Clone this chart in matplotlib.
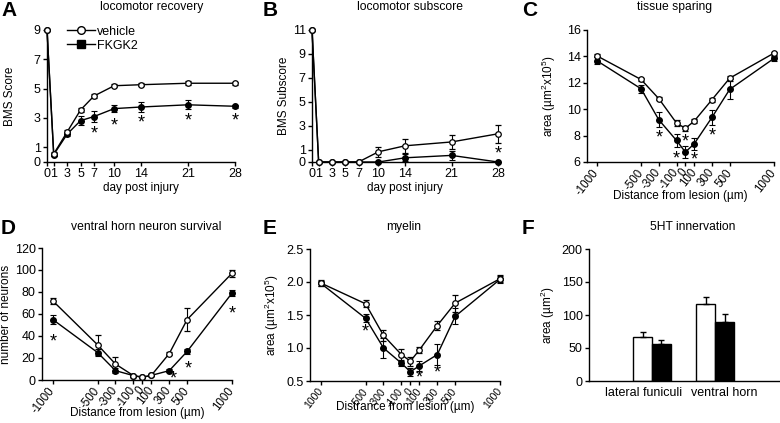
import matplotlib
matplotlib.use("Agg")
import matplotlib.pyplot as plt
from matplotlib.lines import Line2D
from matplotlib.transforms import ScaledTranslation
import numpy as np

plt.rcParams['font.family'] = ['Liberation Sans', 'DejaVu Sans']
plt.rcParams['mathtext.default'] = 'regular'
plt.rcParams['axes.linewidth'] = 1.0

# ---------------- data ----------------
days = [0, 1, 3, 5, 7, 10, 14, 21, 28]
day_ticks = [0, 1, 3, 5, 7, 10, 14, 21, 28]

bms_vehicle = [9, 0.55, 2.05, 3.55, 4.5, 5.2, 5.27, 5.37, 5.37]
bms_vehicle_err = [0, 0.12, 0.12, 0.12, 0.15, 0.1, 0.1, 0.12, 0.1]
bms_fkgk2 = [9, 0.5, 1.9, 2.82, 3.1, 3.64, 3.75, 3.9, 3.8]
bms_fkgk2_err = [0, 0.12, 0.15, 0.3, 0.4, 0.25, 0.35, 0.3, 0.1]
bms_star_days = [7, 10, 14, 21, 28]
bms_star_y = [2.15, 2.7, 2.9, 3.0, 3.0]

sub_vehicle = [11, 0, 0, 0, 0, 0.85, 1.35, 1.67, 2.35]
sub_vehicle_err = [0, 0, 0, 0, 0, 0.4, 0.6, 0.6, 0.75]
sub_fkgk2 = [11, 0, 0, 0, 0, 0, 0.35, 0.55, 0]
sub_fkgk2_err = [0, 0, 0, 0, 0, 0, 0.3, 0.4, 0]
sub_star_days = [28]
sub_star_y = [0.95]

dist = [-1000, -500, -300, -100, 0, 100, 300, 500, 1000]
dist_labels = ['-1000', '-500', '-300', '-100', '0', '100', '300', '500', '1000']
dist_labels_e = ['1000', '-500', '-300', '-100', '0', '100', '300', '500', '1000']

tissue_vehicle = [14.05, 12.25, 10.8, 8.95, 8.55, 9.1, 10.72, 12.35, 14.25]
tissue_vehicle_err = [0.12, 0.12, 0.12, 0.25, 0.18, 0.15, 0.15, 0.2, 0.12]
tissue_fkgk2 = [13.68, 11.55, 9.2, 7.63, 6.75, 7.38, 9.38, 11.5, 13.85]
tissue_fkgk2_err = [0.25, 0.3, 0.55, 0.5, 0.45, 0.45, 0.55, 0.75, 0.2]
tissue_star_x = [-300, -100, 0, 100, 300]
tissue_star_y = [8.1, 6.5, 7.75, 6.4, 8.2]

neuron_vehicle = [72, 32, 14.5, 4, 2.5, 4.2, 24, 55, 97]
neuron_vehicle_err = [3, 9, 6, 1, 1, 1, 1.5, 10.5, 3]
neuron_fkgk2 = [55, 25, 8.5, 4, 2.5, 4.2, 8.5, 26, 79]
neuron_fkgk2_err = [4, 3, 2, 1, 1, 1, 1.5, 2, 2.5]
neuron_star_x = [-1000, 350, 510, 1000]
neuron_star_y = [38, 4, 13, 63]

myelin_vehicle = [1.985, 1.67, 1.19, 0.9, 0.8, 0.97, 1.34, 1.68, 2.05]
myelin_vehicle_err = [0.04, 0.05, 0.08, 0.08, 0.07, 0.05, 0.07, 0.13, 0.05]
myelin_fkgk2 = [1.98, 1.45, 1.0, 0.77, 0.64, 0.73, 0.9, 1.48, 2.04]
myelin_fkgk2_err = [0.04, 0.06, 0.15, 0.04, 0.06, 0.08, 0.16, 0.12, 0.05]
myelin_star_x = [-500, 100, 300]
myelin_star_y = [1.29, 0.6, 0.67]

ht_regions = ['lateral funiculi', 'ventral horn']
ht_vehicle = [66, 117]
ht_vehicle_err = [7.5, 11]
ht_fkgk2 = [56, 90]
ht_fkgk2_err = [6, 12]

# ---------------- figure ----------------
W, H = 780, 423
fig = plt.figure(figsize=(W / 100, H / 100), dpi=100)


def add_ax(l, r, t, b):
    return fig.add_axes([l / W, 1 - b / H, (r - l) / W, (b - t) / H])


TFS = 8.7   # titles
LFS = 8.5   # axis labels
TKS = 9     # tick labels
MS = 4


def style(ax):
    for s in ['top', 'right']:
        ax.spines[s].set_visible(False)
    ax.tick_params(direction='out', length=3, width=1, labelsize=TKS, pad=1.5)


def series(ax, x, yv, ev, yf, ef):
    ax.errorbar(x, yf, yerr=ef, color='black', marker='o', ms=MS, mfc='black', mec='black',
                lw=1, elinewidth=0.8, capsize=2, capthick=0.8, clip_on=False, zorder=3)
    ax.errorbar(x, yv, yerr=ev, color='black', marker='o', ms=MS, mfc='white', mec='black',
                mew=0.9, lw=1, elinewidth=0.8, capsize=2, capthick=0.8, clip_on=False, zorder=4)


def stars(ax, xs, ys):
    tr = ax.transData + ScaledTranslation(0, -2.5 / 72, fig.dpi_scale_trans)
    for x, y in zip(xs, ys):
        ax.text(x, y, '*', ha='center', va='center', fontsize=13, color='black',
                transform=tr)


def letter(x, y, s):
    fig.text(x / W, 1 - y / H, s, fontsize=15, fontweight='bold', va='top', ha='left')


def title(xc, yc, s):
    fig.text(xc / W, 1 - yc / H, s, fontsize=TFS, ha='center', va='center')


def ylab(ax, s, right_px, left_px, width_px, fs=LFS):
    ax.set_ylabel(s, fontsize=fs)
    ax.yaxis.set_label_coords((right_px - left_px) / width_px, 0.5)


def xlab(ax, s, top_px, bottom_px, height_px):
    ax.set_xlabel(s, fontsize=LFS)
    ax.xaxis.set_label_coords(0.5, (bottom_px - top_px) / height_px)


def rot_labels(ax, labels, fs):
    ax.set_xticklabels(labels, rotation=52, ha='right', va='center',
                       rotation_mode='anchor', fontsize=fs)
    ax.tick_params(axis='x', pad=3)


# A
axA = add_ax(47, 235, 30, 162)
style(axA)
series(axA, days, bms_vehicle, bms_vehicle_err, bms_fkgk2, bms_fkgk2_err)
stars(axA, bms_star_days, bms_star_y)
axA.set_xlim(0, 28)
axA.set_ylim(0, 9)
axA.set_xticks(day_ticks)
axA.set_yticks([0, 1, 3, 5, 7, 9])
axA.set_xlabel('day post injury', fontsize=LFS, labelpad=1)
ylab(axA, 'BMS Score', 16, 47, 188)
handles = [Line2D([], [], color='black', marker='o', mfc='white', mec='black', ms=5.5, lw=1),
           Line2D([], [], color='black', marker='s', mfc='black', mec='black', ms=5.5, lw=1)]
axA.legend(handles, ['vehicle', 'FKGK2'], loc='upper left', bbox_to_anchor=(0.08, 1.07),
           frameon=False, fontsize=9, handlelength=2.2, handletextpad=0.2,
           labelspacing=0.15, borderaxespad=0)
title(152, 7, 'locomotor recovery')
letter(1, 1, 'A')

# B
axB = add_ax(312, 498, 30, 162)
style(axB)
series(axB, days, sub_vehicle, sub_vehicle_err, sub_fkgk2, sub_fkgk2_err)
stars(axB, sub_star_days, sub_star_y)
axB.set_xlim(0, 28)
axB.set_ylim(0, 11)
axB.set_xticks(day_ticks)
axB.set_yticks([0, 1, 3, 5, 7, 9, 11])
axB.set_xlabel('day post injury', fontsize=LFS, labelpad=1)
ylab(axB, 'BMS Subscore', 290, 312, 186)
title(410, 7, 'locomotor subscore')
letter(263, 1, 'B')

# C
axC = add_ax(587, 774, 30, 162)
style(axC)
series(axC, dist, tissue_vehicle, tissue_vehicle_err, tissue_fkgk2, tissue_fkgk2_err)
stars(axC, tissue_star_x, tissue_star_y)
axC.set_xlim(-1110, 1000)
axC.set_ylim(6, 16)
axC.set_xticks(dist)
rot_labels(axC, dist_labels, 8.3)
axC.set_yticks([6, 8, 10, 12, 14, 16])
xlab(axC, 'Distance from lesion (µm)', 190, 162, 132)
ylab(axC, 'area (µm$^2$x10$^5$)', 558, 587, 187)
title(675, 7, 'tissue sparing')
letter(522, 1, 'C')

# D
axD = add_ax(42, 232, 248, 380)
style(axD)
series(axD, dist, neuron_vehicle, neuron_vehicle_err, neuron_fkgk2, neuron_fkgk2_err)
stars(axD, neuron_star_x, neuron_star_y)
axD.set_xlim(-1120, 1000)
axD.set_ylim(0, 120)
axD.set_xticks(dist)
rot_labels(axD, dist_labels, 8.3)
axD.set_yticks([0, 20, 40, 60, 80, 100, 120])
xlab(axD, 'Distance from lesion (µm)', 407, 380, 132)
ylab(axD, 'number of neurons', 12, 42, 190)
title(146, 227, 'ventral horn neuron survival')
letter(1, 219, 'D')

# E
axE = add_ax(310, 500, 249, 381)
style(axE)
series(axE, dist, myelin_vehicle, myelin_vehicle_err, myelin_fkgk2, myelin_fkgk2_err)
stars(axE, myelin_star_x, myelin_star_y)
axE.set_xlim(-1120, 1000)
axE.set_ylim(0.5, 2.5)
axE.set_xticks(dist)
rot_labels(axE, dist_labels_e, 7.5)
axE.set_yticks([0.5, 1.0, 1.5, 2.0, 2.5])
axE.set_yticklabels(['0.5', '1.0', '1.5', '2.0', '2.5'])
xlab(axE, 'Distrance from lesion (µm)', 401, 381, 132)
ylab(axE, 'area (µm$^2$x10$^5$)', 281, 310, 190)
title(404, 227, 'myelin')
letter(263, 219, 'E')

# F
axF = add_ax(589, 780, 249, 381)
style(axF)
xpos = np.arange(1, len(ht_regions) + 1)
bw = 0.3
axF.bar(xpos - bw / 2, ht_vehicle, bw, color='white', edgecolor='black', lw=1,
        yerr=[np.zeros(len(ht_vehicle)), ht_vehicle_err], capsize=2.5,
        error_kw=dict(elinewidth=1, capthick=1))
axF.bar(xpos + bw / 2, ht_fkgk2, bw, color='black', edgecolor='black', lw=1,
        yerr=[np.zeros(len(ht_fkgk2)), ht_fkgk2_err], capsize=2.5,
        error_kw=dict(elinewidth=1, capthick=1, ecolor='black'))
axF.set_xlim(0, 3.03)
axF.set_ylim(0, 200)
axF.set_xticks(xpos)
axF.set_xticklabels(ht_regions)
axF.tick_params(axis='x', length=0, pad=4)
for lab, dx in zip(axF.get_xticklabels(), [-8, 9]):
    lab.set_transform(lab.get_transform() + ScaledTranslation(dx / 100, 0, fig.dpi_scale_trans))
axF.set_yticks([0, 50, 100, 150, 200])
ylab(axF, 'area (µm$^2$)', 557, 589, 191)
title(693, 227, '5HT innervation')
letter(522, 219, 'F')

fig.savefig('out.png', dpi=100)
